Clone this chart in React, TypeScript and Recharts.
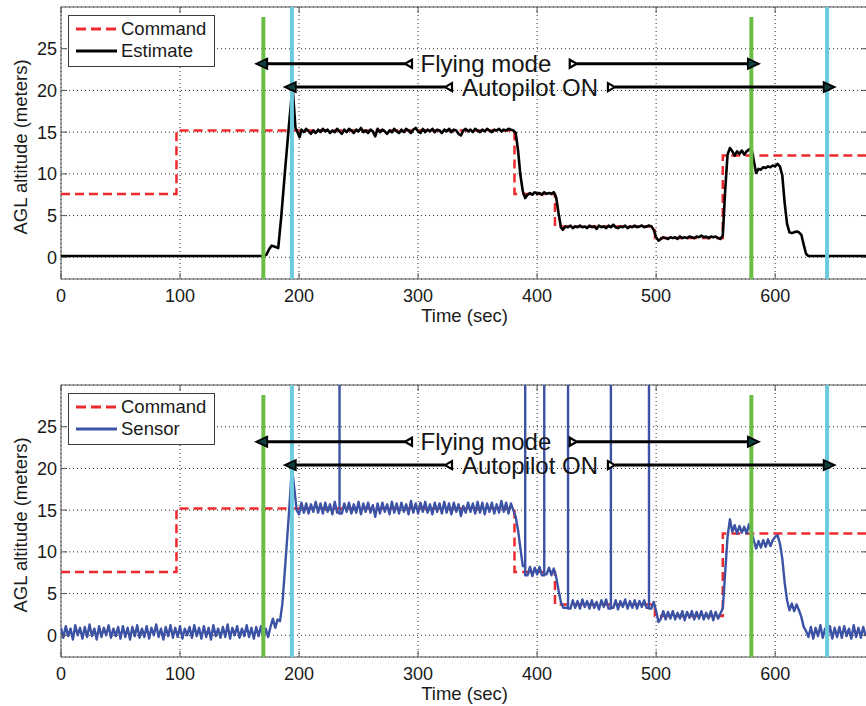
import React from 'react';
import {
  LineChart, Line, XAxis, YAxis, CartesianGrid, ReferenceLine, ReferenceDot, ReferenceArea, Legend,
} from 'recharts';

// ---------- data ----------
const xTicks = [0, 100, 200, 300, 400, 500, 600];
const yTicks = [0, 5, 10, 15, 20, 25];
const xDomain: [number, number] = [0, 678];
const yDomain: [number, number] = [-2.6, 30];

// command altitude (step profile) [time, meters]
const commandSteps: [number, number][] = [
  [0, 7.6], [97, 7.6], [97, 15.2], [381, 15.2], [381, 7.6], [415, 7.6], [415, 3.7],
  [499, 3.7], [499, 2.3], [556, 2.3], [556, 12.2], [678, 12.2],
];

// estimated altitude [time, meters]
const estimatePoints: [number, number][] = [
  [0, 0.15], [170, 0.15], [172.5, 0.3], [175, 1.0], [177, 1.4], [179, 1.3], [181, 1.2], [182.5, 1.1],
  [185, 4.8], [188, 10.0], [191, 15.0], [194.5, 20.5], [197, 15.5], [199, 14.9], [200.5, 14.4],
  [202, 15.3], [204, 15.0], [206, 15.4], [208, 15.1], [210, 14.8], [212, 15.2], [214, 14.9], [216, 15.3],
  [218, 15.0], [220, 15.4], [222, 15.1], [224, 15.3], [226, 14.9], [228, 15.2], [230, 15.0], [232, 15.4],
  [234, 15.1], [236, 14.8], [238, 15.3], [240, 15.0], [242, 15.4], [244, 15.2], [246, 14.9], [248, 15.3],
  [250, 15.1], [252, 15.5], [254, 15.0], [256, 15.2], [258, 14.9], [260, 15.3], [262, 15.1], [264, 14.5],
  [266, 15.4], [268, 15.0], [270, 15.3], [272, 15.1], [274, 14.8], [276, 15.2], [278, 15.0], [280, 15.4],
  [282, 15.1], [284, 14.9], [286, 15.3], [288, 15.0], [290, 15.4], [292, 15.2], [294, 14.9], [296, 15.3],
  [298, 15.5], [300, 15.1], [302, 14.9], [304, 15.4], [306, 15.0], [308, 15.3], [310, 15.1], [312, 15.4],
  [314, 15.0], [316, 15.3], [318, 15.2], [320, 14.9], [322, 15.3], [324, 15.1], [326, 15.4], [328, 15.0],
  [330, 15.3], [332, 15.2], [334, 14.8], [336, 14.6], [338, 15.2], [340, 15.4], [342, 15.1], [344, 15.3],
  [346, 15.0], [348, 15.4], [350, 15.2], [352, 15.0], [354, 15.3], [356, 15.1], [358, 15.4], [360, 15.2],
  [362, 15.0], [364, 15.3], [366, 15.2], [368, 15.4], [370, 15.1], [372, 15.3], [374, 15.2], [376, 15.4],
  [378, 15.3], [380, 15.2],
  [382, 14.9], [384, 12.8], [386, 9.8], [388, 7.9], [390, 7.1], [392, 7.5], [394, 7.7], [396, 7.5],
  [398, 7.8], [400, 7.6], [402, 7.7], [404, 7.5], [406, 7.8], [408, 7.6], [410, 7.7], [412, 7.6],
  [414, 7.8], [416, 7.2], [418, 5.3], [420, 3.6], [421.5, 3.3], [424, 3.7], [426, 3.6], [428, 3.8],
  [430, 3.5], [432, 3.7], [434, 3.6], [436, 3.8], [438, 3.6], [440, 3.7], [442, 3.5], [444, 3.8],
  [446, 3.6], [448, 3.7], [450, 3.4], [452, 3.8], [454, 3.6], [456, 3.7], [458, 3.5], [460, 3.8],
  [462, 3.6], [464, 3.9], [466, 3.6], [468, 3.5], [470, 3.7], [472, 3.6], [474, 3.8], [476, 3.5],
  [478, 3.7], [480, 3.6], [482, 3.8], [484, 3.6], [486, 3.7], [488, 3.8], [490, 3.6], [492, 3.7],
  [494, 3.8], [496, 3.7], [498, 3.3], [500, 2.4], [502, 2.0], [504, 2.2], [506, 2.4], [508, 2.3],
  [510, 2.2], [512, 2.4], [514, 2.3], [516, 2.4], [518, 2.2], [520, 2.5], [522, 2.3], [524, 2.4],
  [526, 2.3], [528, 2.5], [530, 2.4], [532, 2.3], [534, 2.5], [536, 2.4], [538, 2.6], [540, 2.4],
  [542, 2.5], [544, 2.3], [546, 2.5], [548, 2.4], [550, 2.5], [552, 2.3], [554, 2.2], [556, 2.6],
  [558, 8.0], [560, 12.3], [562, 13.1], [564, 12.7], [566, 12.2], [568, 12.7], [570, 12.4], [572, 12.8],
  [574, 12.3], [576, 12.7], [578, 12.9], [580, 13.1], [582, 11.6], [584, 10.1], [586, 10.6], [588, 10.5],
  [590, 10.8], [592, 10.7], [594, 10.9], [596, 10.8], [598, 11.0], [600, 10.9], [602, 11.2], [604, 10.9],
  [606, 9.8], [608, 6.5], [610, 4.0], [612, 3.0], [614, 2.9], [616, 3.0], [618, 3.1], [620, 3.0],
  [622, 2.7], [624, 1.5], [626, 0.4], [628, 0.15], [678, 0.15],
];

// raw sensor altitude, one sample every 2 s starting at t = 0 (150 = outlier spike off the chart)
const sensorStep = 2;
const SPIKE = 150;
const sensorValues: number[] = [
  // 0 - 58
  0.9, -0.3, 1.1, -0.1, 0.8, -0.5, 1.2, 0.0, 0.9, -0.4, 1.0, -0.2, 1.3, -0.1, 0.8, -0.5, 1.1, -0.2, 0.9, 0.0,
  1.2, -0.3, 0.8, -0.1, 1.0, -0.4, 1.1, -0.2, 0.9, -0.5,
  // 60 - 118
  1.0, -0.1, 1.2, -0.3, 0.8, -0.2, 1.1, -0.4, 0.9, 0.0, 1.3, -0.2, 0.8, -0.5, 1.0, -0.1, 1.2, -0.3, 0.9, -0.2,
  1.1, -0.4, 0.8, 0.0, 1.0, -0.3, 1.2, -0.1, 0.9, -0.4,
  // 120 - 182
  1.1, -0.2, 0.9, -0.5, 1.2, -0.1, 0.8, -0.3, 1.0, -0.2, 1.3, -0.4, 0.9, 0.0, 1.1, -0.3, 0.8, -0.1, 1.2, -0.2,
  0.9, -0.4, 1.0, -0.1, 1.1, -0.3, 0.8, -0.2, 1.0, 2.0, 0.9, 1.9,
  // 184 - 198 take-off
  1.7, 3.8, 7.6, 11.6, 15.6, 20.2, 17.6, 15.0,
  // 200 - 378
  14.5, 15.9, 14.7, 15.8, 14.6, 15.7, 14.8, 16.0, 14.7, 15.8,
  14.6, 15.9, 14.8, 15.7, 14.5, 16.0, 14.7, SPIKE, 14.6, 15.8,
  14.8, 15.9, 14.6, 15.7, 14.7, 16.0, 14.5, 15.8, 14.8, 15.9,
  14.7, 15.6, 14.2, 15.8, 14.6, 15.9, 14.8, 15.7, 14.5, 16.0,
  14.7, 15.8, 14.6, 15.9, 14.8, 15.7, 14.5, 16.1, 14.7, 15.8,
  14.6, 15.9, 14.8, 16.0, 14.7, 15.7, 14.5, 15.9, 14.8, 15.8,
  14.6, 16.0, 14.7, 15.8, 14.5, 15.9, 14.8, 15.7, 14.3, 15.5,
  14.7, 15.9, 14.8, 15.8, 14.6, 16.0, 14.7, 15.9, 14.5, 15.8,
  14.8, 15.9, 14.6, 15.7, 14.7, 16.1, 14.8, 15.9, 14.6, 15.8,
  // 380 - 422
  15.0, 14.2, 12.6, 10.4, 8.3, SPIKE, 7.2, 8.2, 7.1, 8.1, 7.3, 8.2, 7.2, SPIKE, 7.3, 8.1, 7.2, 8.0, 7.0, 5.4,
  4.0, 3.3,
  // 424 - 498
  3.3, SPIKE, 3.2, 4.2, 3.3, 4.1, 3.2, 4.3, 3.4, 4.1,
  3.2, 4.2, 3.3, 4.0, 3.1, 4.2, 3.4, 4.3, 3.2, SPIKE,
  3.3, 4.2, 3.1, 4.1, 3.4, 4.3, 3.2, 4.1, 3.3, 4.2,
  3.2, 4.1, 3.4, 4.2, 3.3, SPIKE, 3.2, 4.0,
  // 500 - 554
  2.9, 1.6, 2.0, 2.9, 1.9, 2.8, 2.0, 2.9, 1.9, 2.7,
  2.0, 2.9, 1.8, 2.8, 2.1, 2.9, 1.9, 2.8, 2.0, 2.9,
  1.9, 2.7, 2.0, 2.9, 1.8, 2.8, 2.0, 2.6,
  // 556 - 580
  3.2, 7.5, 11.8, 13.9, 12.4, 13.2, 12.2, 13.1, 12.3, 13.0, 12.2, 13.3, 12.4,
  // 582 - 604
  11.4, 10.4, 11.3, 10.5, 11.4, 10.6, 11.5, 10.7, 11.4, 11.8, 12.0, 11.0,
  // 606 - 626
  9.2, 6.3, 4.2, 3.0, 3.8, 2.9, 3.7, 3.0, 2.2, 1.0, 0.5,
  // 628 - 676
  -0.2, 1.0, -0.4, 0.9, -0.1, 1.2, -0.3, 0.8, -0.2, 1.1, -0.4, 0.9, -0.2, 1.0, -0.3, 1.1, -0.1, 0.8, -0.4, 1.2,
  -0.2, 0.9, -0.3, 1.0, -0.1,
];

// phase markers (time, s)
const flyingStart = 170;
const flyingEnd = 580;
const autopilotStart = 194;
const autopilotEnd = 643.6;
const greenTop = 28.8;

// annotation arrows
const flyingArrow = { label: 'Flying mode', y: 23.2, outerL: 164, innerL: 289, innerR: 433.3, outerR: 586.3, labelX: 357 };
const autopilotArrow = { label: 'Autopilot ON', y: 20.4, outerL: 188, innerL: 322.6, innerR: 465.4, outerR: 650, labelX: 394 };

// ---------- styling ----------
const FONT = '"Liberation Sans", Arial, Helvetica, sans-serif';
const RED = '#ee2a2e';
const BLUE = '#3c52a5';
const GREEN = '#6bbd46';
const CYAN = '#6ccbdc';
const W = 870;
const H = 340;
const MARGIN = { top: 7, right: 2, bottom: 0, left: 0 };
const PLOT_LEFT = 61;
const PLOT_RIGHT = W - MARGIN.right;
const PLOT_TOP = MARGIN.top;

const commandData = commandSteps.map(([t, v]) => ({ t, v }));
const estimateData = estimatePoints.map(([t, v]) => ({ t, v }));
// a spike is drawn as a vertical excursion at its own sample time
const sensorData = sensorValues.flatMap((v, i) => {
  const t = i * sensorStep;
  if (v >= SPIKE) return [{ t, v: sensorValues[i - 1] }, { t, v }, { t, v: sensorValues[i + 1] }];
  return [{ t, v }];
});

const XTick = (p: any) => {
  const { x, y, payload } = p;
  const axisY = y - 10;
  return (
    <g>
      <text x={x} y={y} dy="0.71em" textAnchor="middle" fontSize={18} fill="#1a1a1a" fontFamily={FONT}>
        {payload.value}
      </text>
      <line x1={x} x2={x} y1={axisY} y2={axisY - 6} stroke="#555" strokeWidth={1} />
      <line x1={x} x2={x} y1={PLOT_TOP} y2={PLOT_TOP + 6} stroke="#555" strokeWidth={1} />
    </g>
  );
};

const YTick = (p: any) => {
  const { x, y, payload } = p;
  return (
    <g>
      <text x={x} y={y} dy="0.355em" textAnchor="end" fontSize={18} fill="#1a1a1a" fontFamily={FONT}>
        {payload.value}
      </text>
      <line x1={PLOT_LEFT} x2={PLOT_LEFT + 6} y1={y} y2={y} stroke="#555" strokeWidth={1} />
      <line x1={PLOT_RIGHT - 6} x2={PLOT_RIGHT} y1={y} y2={y} stroke="#555" strokeWidth={1} />
    </g>
  );
};

const arrowShape = (dir: 'left' | 'right') => (p: any) => {
  const { x1, y1, x2 } = p;
  const s = dir === 'left' ? -1 : 1;
  const outerX = dir === 'left' ? Math.min(x1, x2) : Math.max(x1, x2);
  const innerX = dir === 'left' ? Math.max(x1, x2) : Math.min(x1, x2);
  const y = y1;
  const head = `${outerX},${y} ${outerX - s * 11},${y - 5} ${outerX - s * 11},${y + 5}`;
  const tri = `${innerX},${y} ${innerX - s * 7},${y - 4} ${innerX - s * 7},${y + 4}`;
  return (
    <g>
      <line x1={innerX} x2={outerX - s * 9} y1={y} y2={y} stroke="#000" strokeWidth={3} />
      <polygon points={head} fill="#0f3f40" stroke="#000" strokeWidth={1.8} strokeLinejoin="miter" />
      <polygon points={tri} fill="#fff" stroke="#000" strokeWidth={2.2} strokeLinejoin="miter" />
    </g>
  );
};

const LegendBox = ({ entries }: { entries: { name: string; color: string; dash?: string }[] }) => (
  <div
    style={{
      width: 145, height: 50, border: '1px solid #3c3c3c', background: '#fff', position: 'relative',
      fontFamily: FONT, fontSize: 18.5, color: '#1a1a1a', lineHeight: '22px',
    }}
  >
    {entries.map((e, i) => (
      <div key={e.name} style={{ position: 'absolute', left: 0, top: i === 0 ? 2 : 24.6, height: 22, display: 'flex', alignItems: 'center' }}>
        <svg width={52} height={22} style={{ display: 'block' }}>
          <line x1={7} x2={48} y1={11} y2={11} stroke={e.color} strokeWidth={3} strokeDasharray={e.dash} />
        </svg>
        <span>{e.name}</span>
      </div>
    ))}
  </div>
);

const YLabel = (props: any) => {
  const vb = props.viewBox || { x: 0, y: PLOT_TOP, width: 61, height: 272 };
  const cx = vb.x + 20;
  const cy = vb.y + vb.height / 2 + 4;
  return (
    <text x={cx} y={cy} transform={`rotate(-90 ${cx} ${cy})`} textAnchor="middle" dy="0.355em"
      fontSize={18.5} fill="#1a1a1a" fontFamily={FONT}>
      AGL altitude (meters)
    </text>
  );
};

const Panel = ({ series, name, color, width }: { series: { t: number; v: number }[]; name: string; color: string; width: number }) => (
  <LineChart width={W} height={H} margin={MARGIN} style={{ fontFamily: FONT }}>
    <CartesianGrid stroke="#2a2a2a" strokeDasharray="1 3" strokeWidth={1} />
    <ReferenceArea x1={xDomain[0]} x2={xDomain[1]} y1={yDomain[0]} y2={yDomain[1]} fill="none" stroke="#555" strokeWidth={1} />
    <Line data={commandData} dataKey="v" name="Command" type="linear" stroke={RED} strokeWidth={2.5}
      strokeDasharray="9 5" dot={false} isAnimationActive={false} />
    <Line data={series} dataKey="v" name={name} type="linear" stroke={color} strokeWidth={width}
      strokeLinejoin="round" dot={false} isAnimationActive={false} />
    <ReferenceLine segment={[{ x: flyingStart, y: yDomain[0] }, { x: flyingStart, y: greenTop }]} stroke={GREEN} strokeWidth={4} />
    <ReferenceLine segment={[{ x: flyingEnd, y: yDomain[0] }, { x: flyingEnd, y: greenTop }]} stroke={GREEN} strokeWidth={4} />
    <ReferenceLine x={autopilotStart} stroke={CYAN} strokeWidth={4} />
    <ReferenceLine x={autopilotEnd} stroke={CYAN} strokeWidth={4} />
    {[flyingArrow, autopilotArrow].map((a) => (
      <ReferenceLine key={a.label + 'L'} segment={[{ x: a.outerL, y: a.y }, { x: a.innerL, y: a.y }]} shape={arrowShape('left')} />
    ))}
    {[flyingArrow, autopilotArrow].map((a) => (
      <ReferenceLine key={a.label + 'R'} segment={[{ x: a.innerR, y: a.y }, { x: a.outerR, y: a.y }]} shape={arrowShape('right')} />
    ))}
    {[flyingArrow, autopilotArrow].map((a) => (
      <ReferenceDot key={a.label} x={a.labelX} y={a.y} r={0} fill="none" stroke="none"
        label={{ value: a.label, position: 'center', fontSize: 24, fill: '#151515', fontFamily: FONT }} />
    ))}
    <XAxis type="number" dataKey="t" domain={xDomain} ticks={xTicks} allowDataOverflow height={61}
      tickSize={0} tickMargin={10} tickLine={false} axisLine={false} tick={(p: any) => <XTick {...p} />}
      label={{ value: 'Time (sec)', position: 'insideBottom', offset: 18, fontSize: 18.5, fill: '#1a1a1a', fontFamily: FONT }} />
    <YAxis type="number" domain={yDomain} ticks={yTicks} allowDataOverflow width={61}
      tickSize={0} tickMargin={4} tickLine={false} axisLine={false} tick={(p: any) => <YTick {...p} />}
      label={{ content: (lp: any) => <YLabel {...lp} /> }} />
    <Legend layout="vertical" align="center" verticalAlign="middle"
      wrapperStyle={{ left: 68, top: 14.7, width: 147, height: 52 }}
      content={() => (
        <LegendBox entries={[{ name: 'Command', color: RED, dash: '10 5' }, { name, color }]} />
      )} />
  </LineChart>
);

export default function App() {
  return (
    <div style={{ position: 'absolute', left: 0, top: 0, width: 866, height: 706, overflow: 'hidden', background: '#fff' }}>
      <div style={{ position: 'absolute', left: 0, top: 0 }}>
        <Panel series={estimateData} name="Estimate" color="#000" width={2.6} />
      </div>
      <div style={{ position: 'absolute', left: 0, top: 378 }}>
        <Panel series={sensorData} name="Sensor" color={BLUE} width={2.4} />
      </div>
    </div>
  );
}
